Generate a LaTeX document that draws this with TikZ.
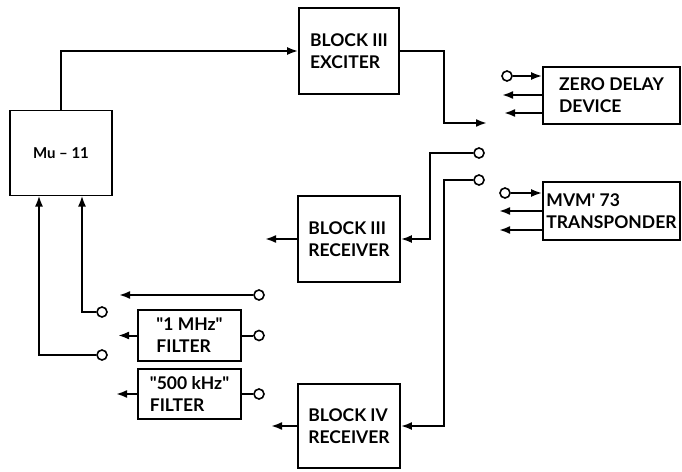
\documentclass[tikz,border=0pt]{standalone}
\usepackage{fontspec}
\setmainfont{Lato}
\usetikzlibrary{arrows.meta}
\tikzset{
  blockbox/.style={draw, line width=1.8pt, inner sep=0pt, align=left, font=\bfseries\fontsize{17.5}{22}\selectfont},
  port/.style={draw, circle, line width=1.6pt, fill=white, minimum size=10pt, inner sep=0pt},
  wire/.style={line width=2pt},
  sig/.style={line width=2pt, -{Latex[length=11pt,width=8pt]}},
  sigback/.style={line width=2pt, {Latex[length=11pt,width=8pt]}-},
}
\begin{document}
\begin{tikzpicture}[x=1pt, y=-1pt]
\useasboundingbox (0,0) rectangle (682,471);
\node[blockbox, minimum width=102pt, minimum height=85pt] (mu) at (61,153) {{\fontsize{15}{17}\selectfont Mu -- 11}};
\node[blockbox, minimum width=100pt, minimum height=86pt] (exciter) at (349,51) {BLOCK III\\EXCITER};
\node[blockbox, minimum width=102pt, minimum height=86pt] (rxiii) at (349,239) {BLOCK III\\RECEIVER};
\node[blockbox, minimum width=102pt, minimum height=84pt] (rxiv) at (349,426) {BLOCK IV\\RECEIVER};
\node[blockbox, minimum width=103pt, minimum height=51pt] (onemhz) at (189.5,335.5) {\textquotedbl 1 MHz\textquotedbl\\FILTER};
\node[blockbox, minimum width=103pt, minimum height=50pt] (halfmhz) at (189.5,394) {\textquotedbl 500 kHz\textquotedbl\\FILTER};
\node[blockbox, minimum width=137pt, minimum height=57pt] (zero) at (611.5,95.5) {ZERO DELAY\\DEVICE};
\node[blockbox, minimum width=137pt, minimum height=58pt] (mvm) at (611.5,211) {MVM\textquotesingle\ 73\\TRANSPONDER};
%%%%%%%%%%%%%
\node[port] (swa) at (479,153) {};
\node[port] (swb) at (479,180) {};
\node[port] (swc) at (259,295) {};
\node[port] (swd) at (102,312) {};
\node[port] (swe) at (102,355) {};
\node[port] (onein) at (259,335.5) {};
\node[port] (halfin) at (259,394) {};
\node[port] (zeroin) at (507,76) {};
\node[port] (mvmin) at (505,193) {};
%%%%%%%%%%%%%
\coordinate (txknee) at (444,123);
\coordinate (txend) at (487,123);
\coordinate (rxaknee) at (430,239);
\coordinate (rxbknee) at (444,426);
\coordinate (muinb) at (39,195.5);
\coordinate (muina) at (82,195.5);
\coordinate (swcend) at (119,295);
\coordinate (rxiiiout) at (265,239);
\coordinate (rxivout) at (271,426);
\coordinate (oneout) at (118,335.5);
\coordinate (halfout) at (116,394);
\coordinate (zeroa) at (502,95);
\coordinate (zerob) at (504,113);
\coordinate (mvma) at (499,211);
\coordinate (mvmb) at (499,230);
%%%%%%%%%%%%%
\draw[sig] (mu.north) |- (exciter.west);
\draw[sig] (exciter.east) -| (txknee) -- (txend);
\draw[sig] (swa) -| (rxaknee) -- (rxiii.east);
\draw[sig] (swb) -| (rxbknee) -- (rxiv.east);
\draw[sig] (swd) -| (muina);
\draw[sig] (swe) -| (muinb);
\draw[sig] (swc) -- (swcend);
\draw[wire] (onemhz.east) -- (onein);
\draw[wire] (halfmhz.east) -- (halfin);
%%%%%%%%%%%%%
\draw[sig] (rxiii.west) -- (rxiiiout);
\draw[sig] (rxiv.west) -- (rxivout);
\draw[sig] (onemhz.west) -- (oneout);
\draw[sig] (halfmhz.west) -- (halfout);
\draw[sig] (zeroin) -- (zeroin -| zero.west);
\draw[sigback] (zeroa) -- (zeroa -| zero.west);
\draw[sigback] (zerob) -- (zerob -| zero.west);
\draw[sig] (mvmin) -- (mvmin -| mvm.west);
\draw[sigback] (mvma) -- (mvma -| mvm.west);
\draw[sigback] (mvmb) -- (mvmb -| mvm.west);
\end{tikzpicture}
\end{document}
